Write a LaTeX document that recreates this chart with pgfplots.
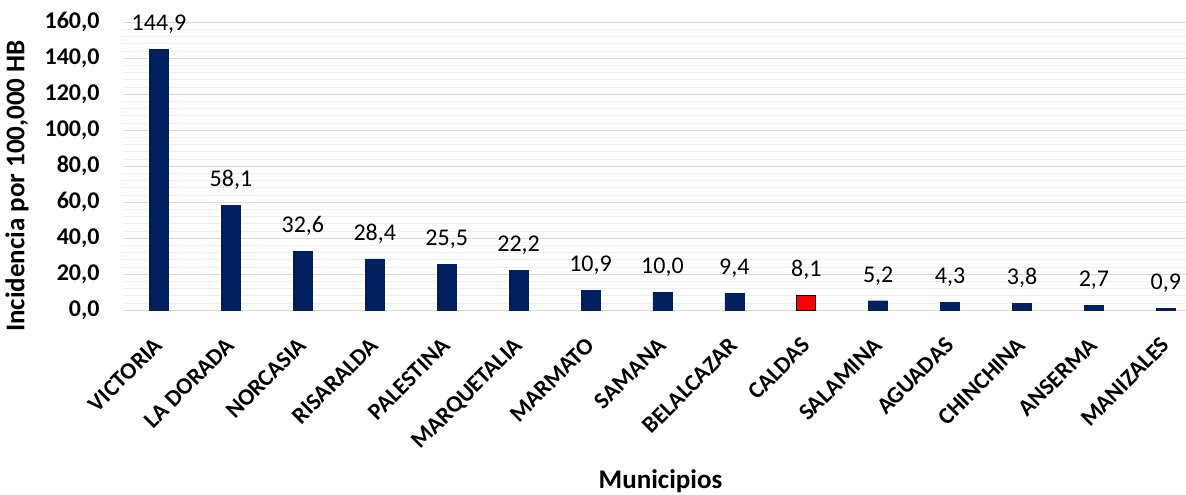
\documentclass[border=0pt]{standalone}
\usepackage{fontspec}
\setmainfont{Carlito}
\usepackage{pgfplots}
\pgfplotsset{compat=1.18}
\definecolor{navy}{HTML}{002060}
\definecolor{gridmaj}{HTML}{D9D9D9}
\definecolor{gridmin}{HTML}{EEEEEE}
\begin{document}
\begin{tikzpicture}
\begin{axis}[
  name=ax,
  scale only axis,
  x=71.9pt, y=1.8pt,
  xmin=-0.5, xmax=14.28,
  ymin=0, ymax=160,
  ytick={0,20,...,160},
  minor y tick num=4,
  ymajorgrids, yminorgrids,
  major grid style={gridmaj, line width=0.8pt},
  minor grid style={gridmin, line width=0.6pt},
  axis line style={draw=none},
  major tick length=0pt, minor tick length=0pt,
  xtick={0,...,14},
  xticklabels={VICTORIA,LA DORADA,NORCASIA,RISARALDA,PALESTINA,MARQUETALIA,MARMATO,SAMANA,BELALCAZAR,CALDAS,SALAMINA,AGUADAS,CHINCHINA,ANSERMA,MANIZALES},
  xticklabel style={xshift=-6pt, yshift=-21pt, rotate=45, anchor=north east, font=\fontsize{23.5}{25}\selectfont\bfseries},
  yticklabel style={font=\fontsize{24}{26}\selectfont\bfseries, xshift=-20pt},
  /pgf/number format/assume math mode=true,
  yticklabel={\pgfmathprintnumber[fixed,fixed zerofill,precision=1,use comma]{\tick}},
  ylabel={\bfseries Incidencia por 100,000 HB},
  ylabel style={font=\fontsize{27}{29}\selectfont, at={(axis description cs:0,0.5)}, anchor=center, xshift=-20pt, yshift=106pt},
  xlabel={\bfseries Municipios},
  xlabel style={font=\fontsize{27}{29}\selectfont, at={(axis description cs:0.5,0)}, anchor=base, xshift=6pt, yshift=-178pt},
  ybar, bar width=19pt,
  nodes near coords={\pgfmathprintnumber[fixed,fixed zerofill,precision=1,use comma]{\pgfplotspointmeta}},
  every node near coord/.append style={font=\fontsize{24}{26}\selectfont, text=black, yshift=12pt},
  clip=false,
]
\addplot[fill=navy, draw=navy, bar shift=0pt] coordinates {
(0,144.9) (1,58.1) (2,32.6) (3,28.4) (4,25.5) (5,22.2) (6,10.9) (7,10.0) (8,9.4)
(10,5.2) (11,4.3) (12,3.8) (13,2.7) (14,0.9)};
\addplot[fill=red, draw=black, line width=1pt, bar shift=0pt] coordinates {(9,8.1)};
\end{axis}
\pgfresetboundingbox
\path[use as bounding box] ([shift={(-123pt,-184pt)}]ax.south west) rectangle ([shift={(0pt,22pt)}]ax.north east);
\end{tikzpicture}
\end{document}
